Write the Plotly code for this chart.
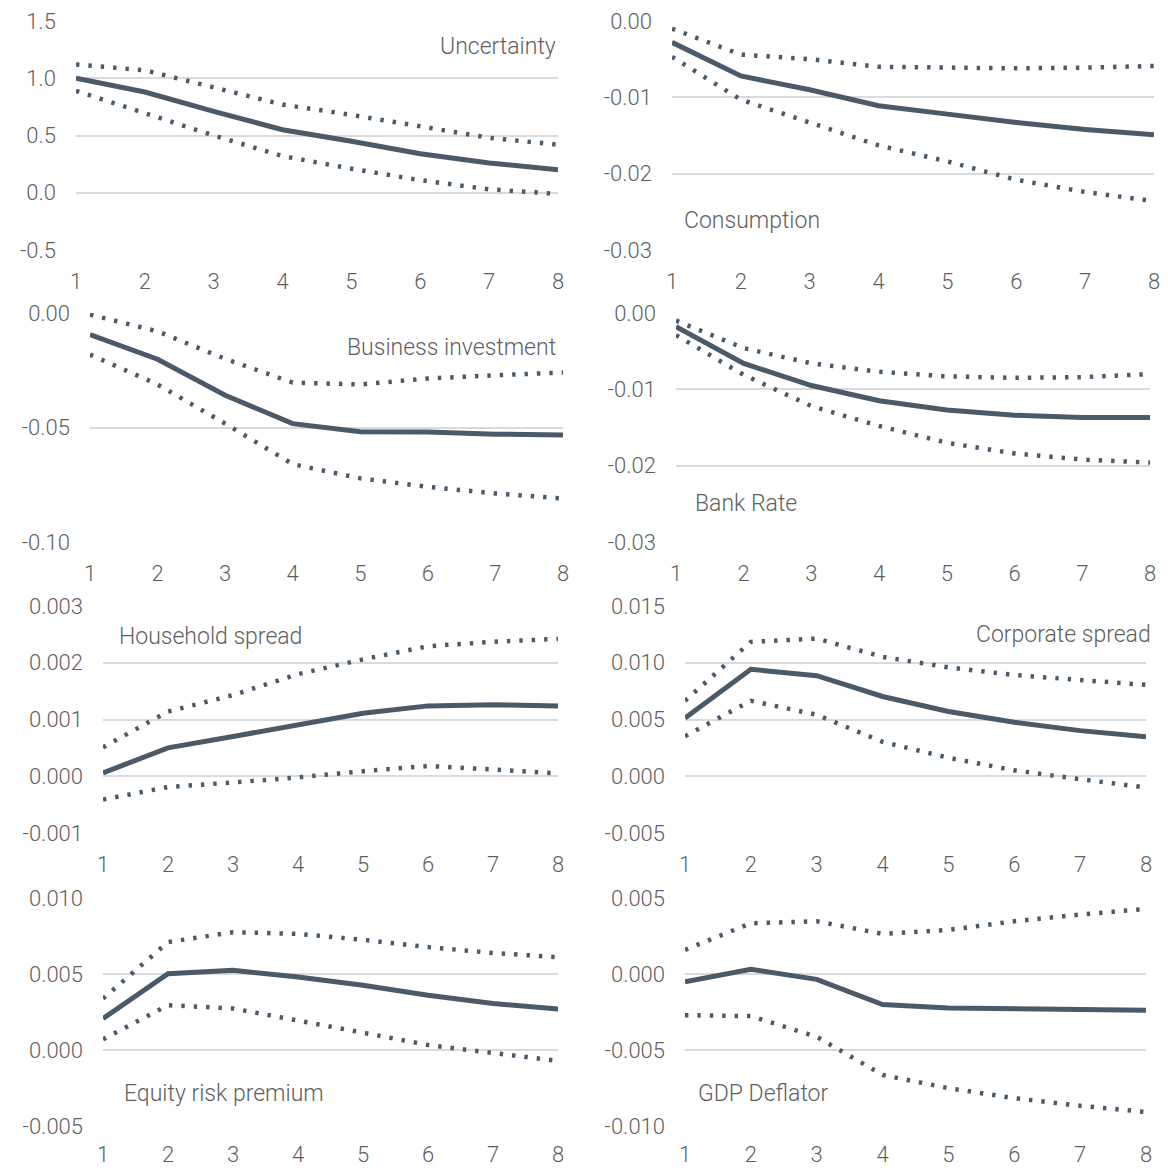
import plotly.graph_objects as go

horizons = [1, 2, 3, 4, 5, 6, 7, 8]

# Panel names
titles = ["Uncertainty", "Consumption", "Business investment", "Bank Rate",
          "Household spread", "Corporate spread", "Equity risk premium", "GDP Deflator"]

# Median responses
uncertainty_mid = [1.00, 0.88, 0.71, 0.55, 0.45, 0.34, 0.26, 0.20]
consumption_mid = [-0.0028, -0.0072, -0.0090, -0.0111, -0.0122, -0.0133, -0.0142, -0.0149]
investment_mid = [-0.0094, -0.0202, -0.0359, -0.0483, -0.0519, -0.0520, -0.0529, -0.0533]
bankrate_mid = [-0.0018, -0.0066, -0.0095, -0.0115, -0.0127, -0.0134, -0.0137, -0.0137]
household_mid = [0.00006, 0.00050, 0.00070, 0.00091, 0.00111, 0.00124, 0.00126, 0.00124]
corporate_mid = [0.00513, 0.00942, 0.00886, 0.00703, 0.00571, 0.00475, 0.00402, 0.00347]
equity_mid = [0.00207, 0.00502, 0.00524, 0.00480, 0.00426, 0.00360, 0.00306, 0.00269]
deflator_mid = [-0.00052, 0.00031, -0.00035, -0.00201, -0.00223, -0.00227, -0.00234, -0.00238]

# Upper bands
uncertainty_hi = [1.12, 1.07, 0.92, 0.77, 0.68, 0.58, 0.48, 0.42]
consumption_hi = [-0.0010, -0.0044, -0.0050, -0.0060, -0.0061, -0.0062, -0.0061, -0.0059]
investment_hi = [-0.0007, -0.0080, -0.0200, -0.0304, -0.0312, -0.0286, -0.0272, -0.0260]
bankrate_hi = [-0.0010, -0.0046, -0.0066, -0.0077, -0.0083, -0.0085, -0.0084, -0.0080]
household_hi = [0.00051, 0.00114, 0.00143, 0.00180, 0.00206, 0.00229, 0.00237, 0.00242]
corporate_hi = [0.00665, 0.01184, 0.01213, 0.01052, 0.00959, 0.00892, 0.00848, 0.00805]
equity_hi = [0.00338, 0.00710, 0.00775, 0.00764, 0.00725, 0.00677, 0.00638, 0.00611]
deflator_hi = [0.00159, 0.00334, 0.00347, 0.00264, 0.00290, 0.00347, 0.00391, 0.00428]

# Lower bands
uncertainty_lo = [0.89, 0.69, 0.50, 0.32, 0.21, 0.11, 0.03, -0.01]
consumption_lo = [-0.0047, -0.0103, -0.0133, -0.0163, -0.0184, -0.0208, -0.0224, -0.0236]
investment_lo = [-0.0182, -0.0312, -0.0483, -0.0660, -0.0722, -0.0759, -0.0788, -0.0810]
bankrate_lo = [-0.0029, -0.0081, -0.0122, -0.0148, -0.0170, -0.0184, -0.0192, -0.0196]
household_lo = [-0.00041, -0.00019, -0.00011, -0.00002, 0.00009, 0.00018, 0.00012, 0.00005]
corporate_lo = [0.00353, 0.00665, 0.00542, 0.00303, 0.00163, 0.00052, -0.00026, -0.00099]
equity_lo = [0.00070, 0.00295, 0.00273, 0.00197, 0.00114, 0.00033, -0.00022, -0.00072]
deflator_lo = [-0.00271, -0.00277, -0.00413, -0.00664, -0.00751, -0.00817, -0.00867, -0.00908]

# Y tick values and labels
uncertainty_ticks = [-0.5, 0.0, 0.5, 1.0, 1.5]
uncertainty_labels = ["-0.5", "0.0", "0.5", "1.0", "1.5"]
consumption_ticks = [-0.03, -0.02, -0.01, 0.0]
consumption_labels = ["-0.03", "-0.02", "-0.01", "0.00"]
investment_ticks = [-0.10, -0.05, 0.0]
investment_labels = ["-0.10", "-0.05", "0.00"]
bankrate_ticks = [-0.03, -0.02, -0.01, 0.0]
bankrate_labels = ["-0.03", "-0.02", "-0.01", "0.00"]
household_ticks = [-0.001, 0.0, 0.001, 0.002, 0.003]
household_labels = ["-0.001", "0.000", "0.001", "0.002", "0.003"]
corporate_ticks = [-0.005, 0.0, 0.005, 0.010, 0.015]
corporate_labels = ["-0.005", "0.000", "0.005", "0.010", "0.015"]
equity_ticks = [-0.005, 0.0, 0.005, 0.010]
equity_labels = ["-0.005", "0.000", "0.005", "0.010"]
deflator_ticks = [-0.010, -0.005, 0.0, 0.005]
deflator_labels = ["-0.010", "-0.005", "0.000", "0.005"]

mids = [uncertainty_mid, consumption_mid, investment_mid, bankrate_mid,
        household_mid, corporate_mid, equity_mid, deflator_mid]
his = [uncertainty_hi, consumption_hi, investment_hi, bankrate_hi,
       household_hi, corporate_hi, equity_hi, deflator_hi]
los = [uncertainty_lo, consumption_lo, investment_lo, bankrate_lo,
       household_lo, corporate_lo, equity_lo, deflator_lo]
ticks = [uncertainty_ticks, consumption_ticks, investment_ticks, bankrate_ticks,
         household_ticks, corporate_ticks, equity_ticks, deflator_ticks]
labels = [uncertainty_labels, consumption_labels, investment_labels, bankrate_labels,
          household_labels, corporate_labels, equity_labels, deflator_labels]

# The page body has an 8px margin, so the figure is 8px smaller and
# all target screen positions are shifted by 8px.
OFF = 8
W = H = 1168 - OFF
# plot-area screen-pixel boxes (left, right, top, bottom)
boxes = [
    (76, 558, 21, 250), (672, 1154, 21, 250),
    (90, 563, 313, 542), (676, 1150, 313, 542),
    (103, 558, 606, 833), (685, 1146, 606, 833),
    (103, 558, 898, 1126), (685, 1146, 898, 1126),
]
# title placement (x px, y px, anchor)
title_pos = [
    (558, 46, "right"), (682, 220, "left"),
    (558, 347, "right"), (693, 503, "left"),
    (117, 636, "left"), (1153, 634, "right"),
    (122, 1093, "left"), (696, 1093, "left"),
]

LINE = "#4a5a69"
TXT = "#5f5f5f"
GRID = "#dadada"
FONT = "Roboto"
FS = 22

fig = go.Figure()
layout = dict(
    width=W, height=H, margin=dict(l=0, r=0, t=0, b=0, autoexpand=False),
    paper_bgcolor="white", plot_bgcolor="white", showlegend=False,
    font=dict(family=FONT, size=FS, color=TXT, weight=300),
)
annotations = []
for i in range(8):
    n = i + 1
    xa = "x" if n == 1 else f"x{n}"
    ya = "y" if n == 1 else f"y{n}"
    for series, dash, width in ((his[i], "3.4px,9px", 4.5), (los[i], "3.4px,9px", 4.5), (mids[i], "solid", 5)):
        fig.add_trace(go.Scatter(x=horizons, y=series, mode="lines", xaxis=xa, yaxis=ya,
                                 line=dict(color=LINE, width=width, dash=dash),
                                 hoverinfo="skip"))
    l, r, t, b = [v - OFF for v in boxes[i]]
    layout[f"xaxis{n}"] = dict(
        domain=[l / W, r / W], anchor=ya, range=[1, 8], automargin=False,
        tickvals=horizons, ticktext=[str(h) for h in horizons],
        showgrid=False, zeroline=False, showline=False, ticks="",
        ticklabelstandoff=16 if i < 6 else 13,
        tickfont=dict(size=FS, color=TXT, family=FONT, weight=300),
        fixedrange=True,
    )
    layout[f"yaxis{n}"] = dict(
        domain=[1 - b / H, 1 - t / H], anchor=xa, automargin=False,
        range=[ticks[i][0], ticks[i][-1]],
        tickvals=ticks[i], ticktext=labels[i],
        showgrid=True, gridcolor=GRID, gridwidth=1.5,
        zeroline=False, showline=False, ticks="",
        ticklabelstandoff=19, tickfont=dict(size=FS, color=TXT, family=FONT, weight=300),
        fixedrange=True,
    )
    tx, ty, anc = title_pos[i]
    annotations.append(dict(
        text=titles[i], x=(tx - OFF) / W, y=1 - (ty - OFF) / H, xref="paper", yref="paper",
        xanchor=anc, yanchor="middle", showarrow=False,
        font=dict(size=23, color=TXT, family=FONT, weight=300),
    ))
layout["annotations"] = annotations
fig.update_layout(**layout)
fig.write_html("out.html")
